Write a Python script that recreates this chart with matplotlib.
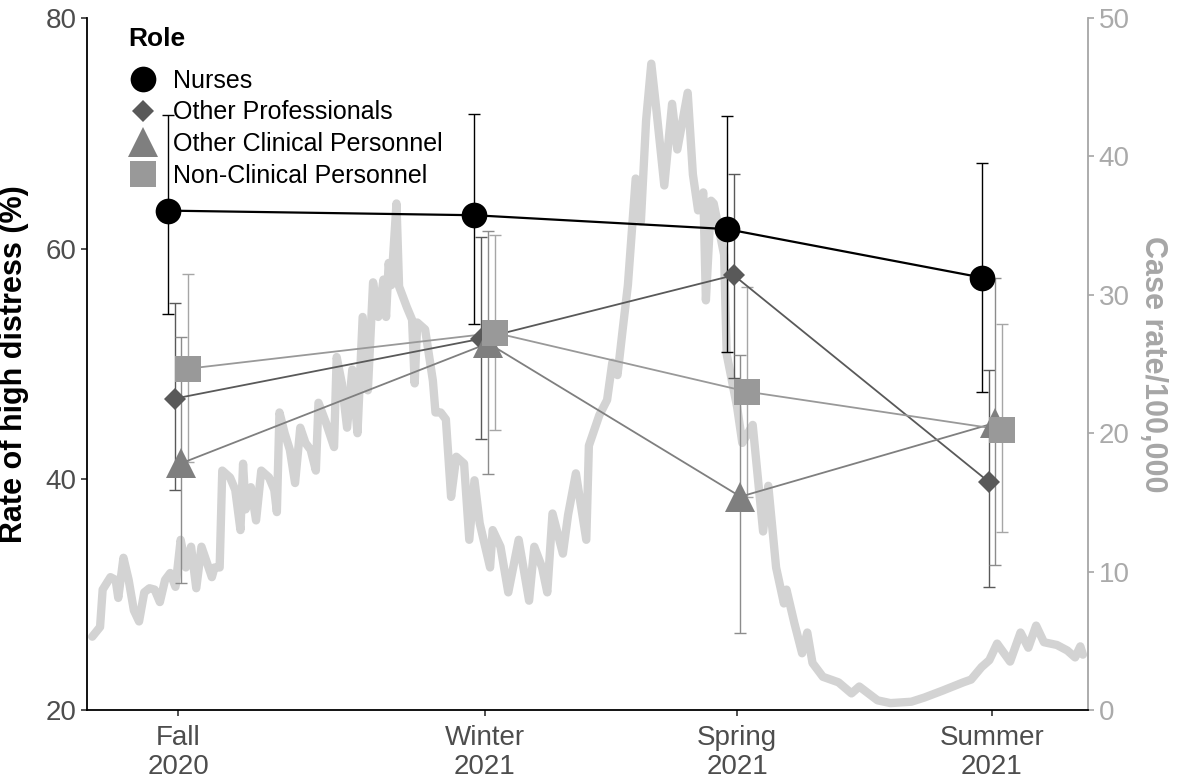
import matplotlib.pyplot as plt
from matplotlib.lines import Line2D

plt.rcParams['font.family'] = ['Liberation Sans', 'DejaVu Sans']

# Survey waves (x in days since start of case series)
seasons = ['Fall\n2020', 'Winter\n2021', 'Spring\n2021', 'Summer\n2021']
season_day = [35, 153, 250, 348]

roles = ['Nurses', 'Other Professionals', 'Other Clinical Personnel',
         'Non-Clinical Personnel']

# Rate of high distress (%) with confidence limits
nurses = [63.3, 62.9, 61.7, 57.5]
nurses_lo = [54.3, 53.5, 51.0, 47.6]
nurses_hi = [71.6, 71.7, 71.5, 67.4]

other_prof = [47.0, 52.2, 57.7, 39.8]
other_prof_lo = [39.1, 43.5, 48.8, 30.7]
other_prof_hi = [55.3, 61.0, 66.5, 49.5]

other_clin = [41.4, 51.8, 38.5, 44.9]
other_clin_lo = [31.0, 40.5, 26.7, 32.6]
other_clin_hi = [52.3, 61.5, 50.8, 57.5]

non_clin = [49.6, 52.7, 47.6, 44.3]
non_clin_lo = [41.5, 44.3, 38.5, 35.4]
non_clin_hi = [57.8, 61.2, 56.7, 53.5]

# Case rate per 100,000
case_day = [2, 5, 6, 9, 11, 12, 14, 16, 18, 20, 22, 24, 26, 28, 30, 32, 34, 36,
            38, 40, 42, 44, 46, 48, 49, 51, 52, 55, 57, 59, 60, 61, 63, 65, 67,
            70, 72, 73, 74, 76, 78, 80, 82, 84, 86, 88, 89, 92, 95, 96, 98, 100,
            102, 104, 106, 108, 110, 112, 114, 115, 116, 117, 119, 120, 123,
            125, 126, 127, 130, 133, 134, 136, 138, 140, 142, 145, 147, 149,
            151, 155, 156, 159, 162, 166, 170, 172, 175, 177, 179, 183, 185,
            188, 192, 193, 197, 200, 202, 204, 206, 208, 211, 213, 215, 217,
            219, 222, 225, 227, 231, 233, 235, 237, 238, 240, 241, 245, 246,
            250, 252, 256, 260, 262, 265, 268, 269, 272, 275, 277, 279, 283,
            289, 294, 297, 304, 309, 317, 322, 329, 337, 340, 344, 347, 350,
            355, 359, 362, 365, 368, 373, 377, 380, 382, 383]
case_rate = [5.3, 6.0, 8.7, 9.6, 9.4, 8.1, 11.0, 9.4, 7.2, 6.4, 8.5, 8.8, 8.7,
             7.8, 9.4, 9.9, 8.9, 12.3, 10.3, 11.8, 8.8, 11.8, 10.7, 9.6, 10.3,
             10.3, 17.3, 16.8, 15.9, 13.0, 17.8, 14.5, 16.1, 13.7, 17.3, 16.8,
             15.9, 14.3, 21.5, 20.0, 18.8, 16.4, 20.4, 19.3, 18.8, 17.3, 22.2,
             20.7, 19.0, 25.5, 23.6, 20.4, 24.6, 20.0, 28.4, 23.1, 30.9, 28.4,
             31.1, 28.4, 32.3, 30.7, 36.6, 30.6, 29.1, 28.2, 23.6, 28.0, 27.5,
             23.8, 21.5, 21.5, 21.0, 15.4, 18.3, 17.8, 12.3, 16.6, 13.5, 10.3,
             13.0, 11.8, 8.5, 12.3, 7.9, 11.8, 10.3, 8.5, 14.2, 11.3, 14.1,
             17.1, 12.3, 19.1, 21.3, 22.4, 25.1, 24.2, 27.5, 30.7, 38.4, 35.3,
             42.6, 46.7, 43.3, 37.9, 43.8, 40.5, 44.6, 38.7, 36.1, 37.4, 29.6,
             36.8, 36.6, 32.9, 25.7, 21.9, 19.3, 20.6, 12.9, 16.2, 10.3, 7.7,
             8.7, 6.3, 4.1, 5.6, 3.4, 2.4, 2.0, 1.2, 1.7, 0.7, 0.5, 0.6, 0.9,
             1.4, 2.0, 2.2, 3.1, 3.6, 4.8, 3.5, 5.6, 4.5, 6.1, 4.9, 4.7, 4.3,
             3.8, 4.6, 4.0]


def plot_roles(ax):
    series = [
        (nurses, nurses_lo, nurses_hi, 'o', 18.5, 'black', 'black', 1.6),
        (other_prof, other_prof_lo, other_prof_hi, 'D', 11.5, '#595959', '#595959', 1.3),
        (other_clin, other_clin_lo, other_clin_hi, '^', 22, '#7f7f7f', '#8c8c8c', 1.3),
        (non_clin, non_clin_lo, non_clin_hi, 's', 18.5, '#999999', '#a6a6a6', 1.3),
    ]
    offsets = [-4.0, -1.3, 1.3, 4.0]
    handles = []
    for i, (vals, lo, hi, mk, ms, col, ecol, lw) in enumerate(series):
        xs = [d + offsets[i] for d in season_day]
        yerr = [[v - l for v, l in zip(vals, lo)], [h - v for v, h in zip(vals, hi)]]
        ax.errorbar(xs, vals, yerr=yerr, fmt='none', ecolor=ecol, elinewidth=1.0,
                    capsize=4.5, capthick=1.0, zorder=2 + i * 0.1)
        ax.plot(xs, vals, color=col, lw=lw, zorder=3 + i * 0.1)
        ax.plot(xs, vals, linestyle='none', marker=mk, ms=ms, color=col,
                markeredgewidth=0, zorder=4 + i * 0.1)
        handles.append(Line2D([], [], linestyle='none', marker=mk, ms=ms,
                              color=col, markeredgewidth=0))
    return handles


def main():
    fig = plt.figure(figsize=(11.78, 7.83), dpi=100)
    ax = fig.add_axes([0.0739, 0.0932, 0.8498, 0.8838])
    ax2 = ax.twinx()

    # Case rate curve on secondary axis, drawn behind the survey data
    ax2.plot(case_day, case_rate, color='#d3d3d3', lw=6.0,
             solid_joinstyle='round', solid_capstyle='round')
    ax2.set_ylim(0, 50)
    ax2.set_yticks(range(0, 51, 10))
    ax.set_zorder(ax2.get_zorder() + 1)
    ax.patch.set_visible(False)

    handles = plot_roles(ax)

    ax.set_xlim(0, 385)
    ax.set_ylim(20, 80)
    ax.set_yticks([20, 40, 60, 80])
    ax.set_xticks(season_day)
    ax.set_xticklabels(seasons, linespacing=1.12)

    for a in (ax, ax2):
        for side in ('top', 'right', 'left', 'bottom'):
            a.spines[side].set_visible(False)
    ax.spines['left'].set_visible(True)
    ax.spines['bottom'].set_visible(True)
    ax2.spines['right'].set_visible(True)
    ax.spines['left'].set_linewidth(1.3)
    ax.spines['bottom'].set_linewidth(1.3)
    ax2.spines['right'].set_color('#a6a6a6')
    ax2.spines['right'].set_linewidth(1.3)

    ax.tick_params(axis='both', labelsize=20, labelcolor='#4d4d4d', length=4,
                   width=1.2, color='#333333')
    ax.tick_params(axis='x', pad=7)
    ax2.tick_params(axis='y', labelsize=20, labelcolor='#aaaaaa', length=4,
                    width=1.2, color='#a6a6a6')

    ax.set_ylabel('Rate of high distress (%)', fontsize=22, fontweight='bold',
                  color='black', labelpad=12)
    ax2.set_ylabel('Case rate/100,000', fontsize=22, fontweight='bold',
                   color='#a6a6a6', rotation=270, labelpad=28)

    # Legend: title as separate text so its gap to the entries matches
    ax.text(0.041, 0.969, 'Role', transform=ax.transAxes, fontsize=19,
            fontweight='bold', ha='left', va='center')
    ax.legend(handles, roles, loc='upper left', bbox_to_anchor=(0.041, 0.927),
              frameon=False, fontsize=18, handlelength=1.2, handletextpad=0.6,
              labelspacing=0.31, borderpad=0, borderaxespad=0)

    fig.savefig('out.png', dpi=100)


if __name__ == '__main__':
    main()
